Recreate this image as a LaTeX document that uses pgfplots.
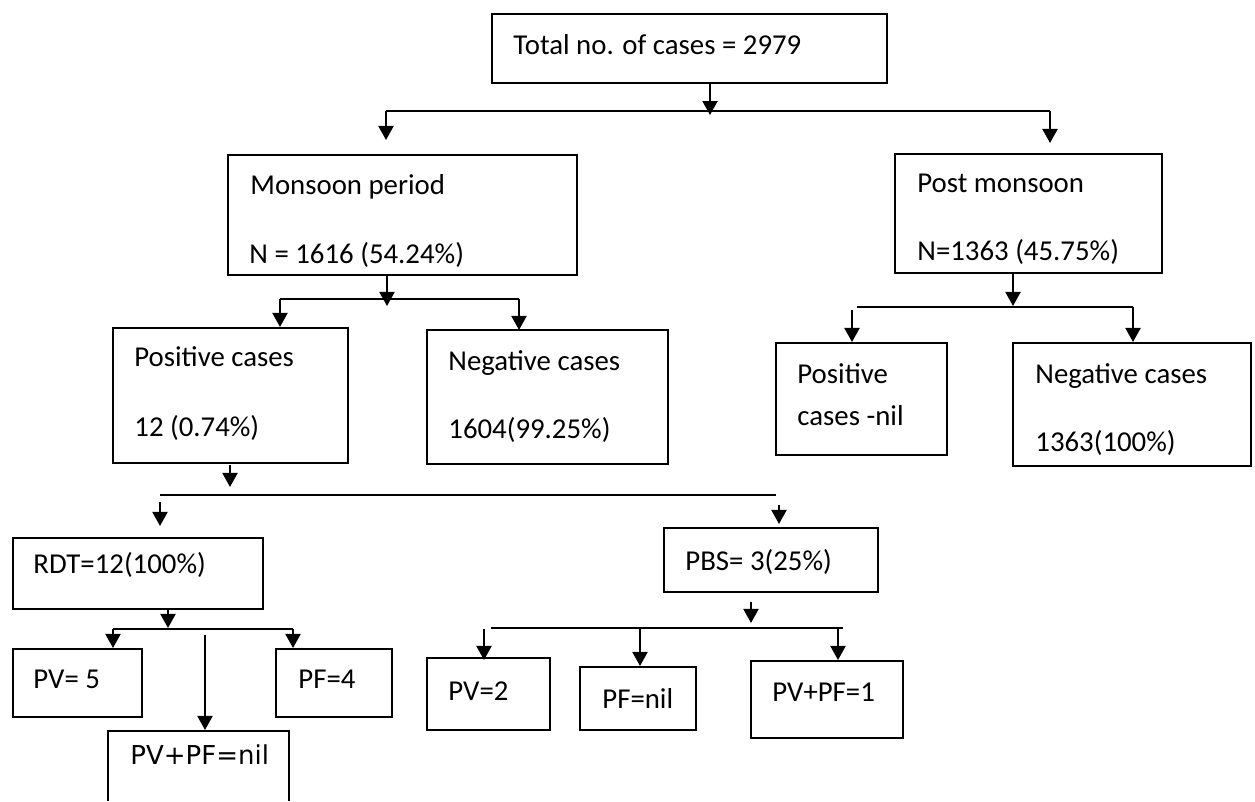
\documentclass[border=0pt]{standalone}
\usepackage{pgfplots}
\pgfplotsset{compat=1.18}
\usetikzlibrary{arrows.meta}
\usepackage{fontspec}
\setmainfont{Carlito}
\newfontfamily\djv{DejaVu Sans}
\newcommand{\bx}[4]{\addplot[black, line width=1.1bp, line cap=rect] coordinates {(#1,#2) (#3,#2) (#3,#4) (#1,#4) (#1,#2)};}
\newcommand{\hl}[4]{\addplot[black, line width=1bp] coordinates {(#1,#2) (#3,#4)};}
\newcommand{\ar}[3]{\addplot[black, line width=1bp, -{Triangle[length=7bp,width=7.5bp]}] coordinates {(#1,#2) (#1,#3)};}
\newcommand{\tx}[3]{\node[anchor=base west, inner sep=0pt, font=\fontsize{14.4bp}{17bp}\selectfont] at (axis cs:#1,#2) {#3};}
\begin{document}
\begin{tikzpicture}
\begin{axis}[width=627.5bp, height=400bp, scale only axis,
  xmin=0, xmax=1255, ymin=0, ymax=800, y dir=reverse,
  hide axis, clip=false]
\addplot[draw=none] coordinates {(0,0) (1255,800)};
% boxes
\bx{492}{14}{887}{83}
\bx{228}{155}{577}{275}
\bx{895}{154}{1162}{273}
\bx{113}{328}{348}{463}
\bx{427}{330}{668}{464}
\bx{776}{343}{947}{455}
\bx{1013}{343}{1251}{466}
\bx{13}{538}{263}{609}
\bx{664}{528}{878}{592}
\bx{13}{649}{142}{717}
\bx{276}{649}{392}{717}
\addplot[black, line width=1.1bp, line cap=rect] coordinates {(108,800) (108,731) (289,731) (289,800)};
\bx{427}{658}{550}{730}
\bx{580}{667}{696}{730}
\bx{751}{661}{903}{738}
% connectors level 1
\ar{710}{83}{115}
\hl{386}{111}{1050}{111}
\ar{386}{111}{140}
\ar{1050}{111}{143}
% monsoon
\ar{387}{275}{306}
\hl{280}{299}{519}{299}
\ar{280}{299}{327}
\ar{519}{299}{330}
% post monsoon
\ar{1013}{273}{306}
\hl{857}{307}{1133}{307}
\ar{852}{310}{342}
\ar{1133}{307}{342}
% positive cases
\ar{230}{465}{487}
\hl{160}{495}{776}{495}
\ar{160}{502}{526}
\ar{779}{505}{524}
% RDT
\ar{168}{609}{628}
\hl{113}{629}{293}{629}
\ar{113}{629}{648}
\ar{293}{629}{648}
\ar{205}{635}{730}
% PBS
\ar{751}{602}{623}
\hl{491}{628}{843}{628}
\ar{484}{629}{660}
\ar{640}{628}{666}
\ar{838}{629}{660}
% texts
\tx{513}{54}{Total no. of cases = 2979}
\tx{250}{194}{Monsoon period}
\tx{249}{264}{N = 1616 (54.24\%)}
\tx{917}{192}{Post monsoon}
\tx{917}{261}{N=1363 (45.75\%)}
\tx{134}{367}{Positive cases}
\tx{134}{437}{12 (0.74\%)}
\tx{448}{371}{Negative cases}
\tx{448}{439}{1604(99.25\%)}
\tx{797}{384}{Positive}
\tx{797}{426}{cases -nil}
\tx{1035}{384}{Negative cases}
\tx{1035}{452}{1363(100\%)}
\tx{33}{574}{RDT=12(100\%)}
\tx{685}{571}{PBS= 3(25\%)}
\tx{33}{689}{PV= 5}
\tx{298}{689}{PF=4}
\node[anchor=base west, inner sep=0pt, font=\djv\fontsize{13bp}{16bp}\selectfont] at (axis cs:130,765) {PV+PF=nil};
\tx{448}{701}{PV=2}
\tx{602}{709}{PF=nil}
\tx{772}{702}{PV+PF=1}
\end{axis}
\end{tikzpicture}
\end{document}
